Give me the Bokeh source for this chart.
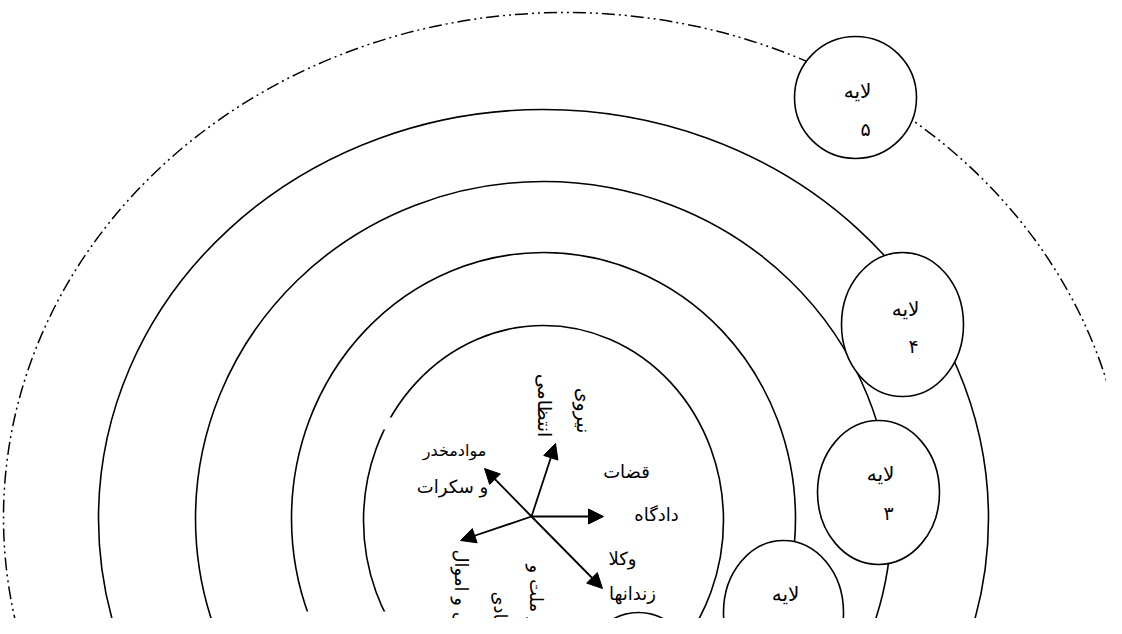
import math
from bokeh.plotting import figure
from bokeh.models import Range1d, Arrow, NormalHead, ColumnDataSource
from bokeh.core.properties import value
from bokeh.embed import file_html
from bokeh.resources import INLINE

FONT = "DejaVu Sans"

# concentric rings (center x, center y, semi-axis a, semi-axis b)
ring_cx = [543, 543, 543, 543]
ring_cy = [518, 518, 518, 520]
ring_a = [445, 348, 252, 180]
ring_b = [409, 337, 266, 195]

# outer dash-dot ring
outer_cx, outer_cy, outer_a, outer_b = 565, 517, 562, 505

# layer bubbles
layer_names = ["لایه", "لایه", "لایه", "لایه", "لایه"]
layer_nums = ["۵", "۴", "۳", "۲", ""]
bub_x = [855, 902, 878, 783, 638]
bub_y = [97, 324, 492, 612, 684]
bub_a = [61, 61, 61, 60, 60]
bub_b = [61, 72, 72, 72, 72]
name_x = [857, 905, 880, 785, 638]
name_y = [90, 308, 473, 593, 670]
num_x = [865, 913, 888, 792, 645]
num_y = [128, 345, 512, 630, 705]

# arrows from the hub
hub_x, hub_y = 531, 516
tip_x = [555, 603, 602, 484, 460]
tip_y = [443, 516, 588, 468, 540]

# horizontal labels
h_text = ["موادمخدر", "و سکرات", "قضات", "دادگاه", "وکلا", "زندانها"]
h_x = [454, 452, 626, 656, 622, 632]
h_y = [450, 486, 471, 514, 558, 593]
h_size = ["16px", "18px", "18px", "18px", "18px", "18px"]

# vertical labels, centered
v_text = ["نیروی", "انتظامی"]
v_x = [583, 544]
v_y = [410, 405]

# vertical labels anchored at their top end
vt_text = ["ملکی و اموال", "حقوق بنیادی", "امور ملت و"]
vt_x = [461, 500, 536]
vt_y = [549, 591, 564]

# the captured picture starts at the figure's own corner
p = figure(width=1106, height=618, x_range=Range1d(0, 1106), y_range=Range1d(618, 0),
           output_backend="svg", toolbar_location=None, min_border=0,
           x_axis_location=None, y_axis_location=None)
p.grid.visible = False
p.outline_line_color = None
p.background_fill_color = "white"
p.border_fill_color = "white"

# outer dash-dot-dot ring
p.ellipse(x=[outer_cx], y=[outer_cy], width=[2 * outer_a], height=[2 * outer_b],
          fill_color=None, line_color="black", line_width=1.5, line_dash="13 4 2 4 2 4")

# solid rings
p.ellipse(x=ring_cx, y=ring_cy, width=[2 * a for a in ring_a], height=[2 * b for b in ring_b],
          fill_color=None, line_color="black", line_width=1.6)

# white gaps (text boxes covering the rings)
p.quad(left=[381, 262], right=[394, 440], top=[417, 611], bottom=[429, 640],
       fill_color="white", line_color=None)

# layer bubbles
p.ellipse(x=bub_x, y=bub_y, width=[2 * a for a in bub_a], height=[2 * b for b in bub_b],
          fill_color="white", line_color="black", line_width=1.6)

p.text(x=name_x, y=name_y, text=layer_names, text_font=value(FONT), text_font_size="20px",
       text_align="center", text_baseline="middle", text_color="black")
p.text(x=num_x, y=num_y, text=layer_nums, text_font=value(FONT), text_font_size="19px",
       text_align="center", text_baseline="middle", text_color="black")

# arrows
src = ColumnDataSource(dict(x0=[hub_x] * len(tip_x), y0=[hub_y] * len(tip_y), x1=tip_x, y1=tip_y))
p.add_layout(Arrow(end=NormalHead(size=15, fill_color="black", line_color="black", line_width=1),
                   x_start="x0", y_start="y0", x_end="x1", y_end="y1", source=src,
                   line_color="black", line_width=1.8))

# horizontal labels
hsrc = ColumnDataSource(dict(x=h_x, y=h_y, t=h_text, s=h_size))
p.text(x="x", y="y", text="t", source=hsrc, text_font=value(FONT), text_font_size="s",
       text_align="center", text_baseline="middle", text_color="black")

# vertical labels
p.text(x=v_x, y=v_y, text=v_text, angle=-math.pi / 2, text_font=value(FONT),
       text_font_size="19px", text_align="center", text_baseline="middle", text_color="black")
p.text(x=vt_x, y=vt_y, text=vt_text, angle=-math.pi / 2, text_font=value(FONT),
       text_font_size="18px", text_align="left", text_baseline="middle", text_color="black")

open("out.html", "w").write(file_html(p, INLINE))
